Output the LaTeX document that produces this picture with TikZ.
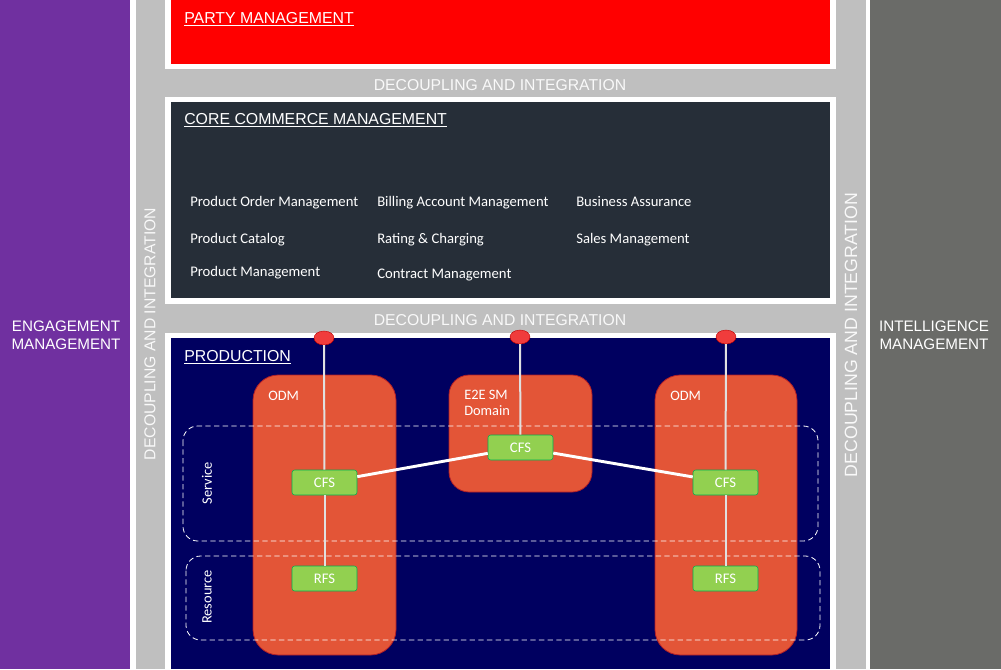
\documentclass[tikz,border=0pt]{standalone}
\usepackage{fontspec}
\setmainfont{Liberation Sans}
\newfontfamily\cali{Carlito}
\usepackage{tikz}
\usetikzlibrary{positioning,shapes.geometric}
\definecolor{engc}{HTML}{7030A0}
\definecolor{intc}{HTML}{6A6B68}
\definecolor{decc}{HTML}{BFBFBF}
\definecolor{partyc}{HTML}{FF0000}
\definecolor{corec}{HTML}{262E38}
\definecolor{prodc}{HTML}{000060}
\definecolor{domc}{HTML}{E35537}
\definecolor{domb}{HTML}{B01E28}
\definecolor{fsc}{HTML}{92D050}
\definecolor{fsb}{HTML}{00B050}
\definecolor{pinc}{HTML}{F03C3C}
\tikzset{
  hd/.style={font=\fontsize{11.9}{14}\selectfont,text=white,anchor=base west,inner sep=0pt},
  dec/.style={font=\fontsize{11.8}{14}\selectfont,text=white!90!decc,inner sep=0pt},
  side/.style={font=\fontsize{11.4}{13.5}\selectfont,text=white,align=center,inner sep=0pt},
  it/.style={font=\cali\fontsize{11}{13}\selectfont,text=white,anchor=base west,inner sep=0pt},
  sm/.style={font=\cali\fontsize{10.8}{12}\selectfont,text=white,anchor=base west,inner sep=0pt,align=left},
  dom/.style={draw=domb,fill=domc,line width=0.6pt},
  fs/.style={draw=fsb,fill=fsc,rounded corners=2pt,minimum width=48.75pt,minimum height=18.75pt,inner sep=0pt,font=\cali\fontsize{11}{12}\selectfont,text=white},
  pin/.style={ellipse,fill=pinc,draw=red!75!black,line width=0.3pt,minimum width=15pt,minimum height=10.5pt,inner sep=0pt},
  vln/.style={draw=white!88!black,line width=1.5pt},
  dln/.style={draw=white,line width=2.2pt},
  lyr/.style={draw=white,dashed,dash pattern=on 4pt off 2.5pt,rounded corners=11pt,line width=0.6pt}
}

\begin{document}
\begin{tikzpicture}[x=0.75pt,y=-0.75pt]
\useasboundingbox (0,0) rectangle (1001,669);
\fill[engc] (0,0) rectangle (130,669);
\fill[white] (130,0) rectangle (870,669);
\fill[decc] (136,0) rectangle (866,669);
\fill[intc] (870,0) rectangle (1001,669);
\fill[white] (165,0) rectangle (836,69);
\fill[partyc] (171,0) rectangle (830,64);
\fill[white] (165,97) rectangle (836,304);
\fill[corec] (171,102) rectangle (830,298);
\fill[white] (165,333) rectangle (836,669);
\fill[prodc] (171,338) rectangle (830,669);

\node[hd] (pty) at (184,23) {\underline{PARTY MANAGEMENT}};
\node[hd] (core) at (184,124) {\underline{CORE COMMERCE MANAGEMENT}};
\node[hd] (prod) at (184,361) {\underline{PRODUCTION}};
\node[dec,anchor=base] (dec1) at (500,90) {DECOUPLING AND INTEGRATION};
\node[dec,anchor=base] (dec2) at (500,325) {DECOUPLING AND INTEGRATION};
\node[dec,rotate=90] (decl) at (150,334) {DECOUPLING AND INTEGRATION};
\node[dec,rotate=90,font=\fontsize{13.3}{15}\selectfont] (decr) at (851,335) {DECOUPLING AND INTEGRATION};
\node[side] (eng) at (66,335) {ENGAGEMENT\\MANAGEMENT};
\node[side] (intl) at (934,335) {INTELLIGENCE\\MANAGEMENT};

\node[it] (poM) at (190,206) {Product Order Management};
\node[it] (baM) at (377,206) {Billing Account Management};
\node[it] (bA) at (576,206) {Business Assurance};
\node[it] (pC) at (190,243) {Product Catalog};
\node[it] (rC) at (377,243) {Rating \& Charging};
\node[it] (sM) at (576,243) {Sales Management};
\node[it] (pM) at (190,276) {Product Management};
\node[it] (cM) at (377,278) {Contract Management};

\draw[dom,rounded corners=19pt] (253,375) rectangle (396,655);
\draw[dom,rounded corners=15pt] (449,375) rectangle (592,492);
\draw[dom,rounded corners=19pt] (655,375) rectangle (797,655);
\node[sm] (odml) at (268,400) {ODM};
\node[sm] (e2e) at (464,415) {E2E SM\\Domain};
\node[sm] (odmr) at (670,400) {ODM};

\draw[lyr] (183,426) rectangle (818,541);
\draw[lyr] (186,556) rectangle (820,640);
\node[sm,rotate=90,anchor=center] (svc) at (207,483) {Service};
\node[sm,rotate=90,anchor=center] (res) at (207,597) {Resource};

\node[fs] (cfsl) at (324.5,482.5) {CFS};
\node[fs] (cfsm) at (520.5,447.5) {CFS};
\node[fs] (cfsr) at (725.5,482.5) {CFS};
\node[fs] (rfsl) at (324.5,578.5) {RFS};
\node[fs] (rfsr) at (725.5,578.5) {RFS};
\node[pin] (pinl) at (324,338) {};
\node[pin] (pinm) at (520,337) {};
\node[pin] (pinr) at (726,337) {};

\draw[vln] (pinl) -- (cfsl);
\draw[vln] (pinm) -- (cfsm);
\draw[vln] (pinr) -- (cfsr);
\draw[vln] (cfsl) -- (rfsl);
\draw[vln] (cfsr) -- (rfsr);
\draw[dln] (cfsl) -- (cfsm);
\draw[dln] (cfsm) -- (cfsr);
\end{tikzpicture}
\end{document}
